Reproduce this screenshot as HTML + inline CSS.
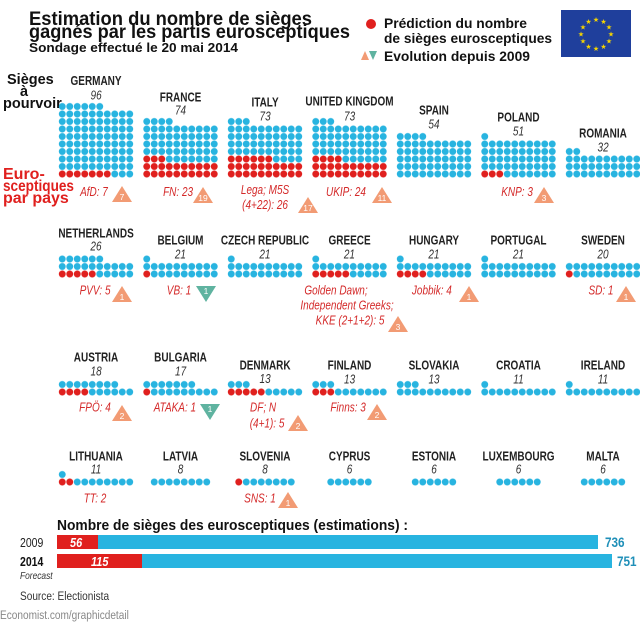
<!DOCTYPE html>
<html><head><meta charset="utf-8"><style>
html,body{margin:0;padding:0;background:#fff;}
svg{display:block;}
.h{font-family:"Liberation Sans",sans-serif;font-weight:bold;}
.c{font-family:"Liberation Sans",sans-serif;transform-box:fill-box;transform-origin:left center;transform:scaleX(0.84);}
.nm,.nb,.lb{transform-box:fill-box;transform-origin:center;transform:scaleX(0.8);font-family:"Liberation Sans",sans-serif;text-anchor:middle;}
.nm{font-weight:bold;font-size:12.5px;fill:#222;}
.nb{font-style:italic;font-size:12.5px;fill:#333;}
.lb{font-style:italic;font-size:12.5px;fill:#d42a2a;}
.tn{font-family:"Liberation Sans",sans-serif;font-size:8.5px;fill:#fff;text-anchor:middle;}
</style></head><body>
<svg width="640" height="623" viewBox="0 0 640 623" xmlns="http://www.w3.org/2000/svg">
<defs>
<pattern id="b" width="7.5" height="7.5" patternUnits="userSpaceOnUse"><circle cx="3.75" cy="3.75" r="3.45" fill="#28b4e0"/></pattern>
<pattern id="r" width="7.5" height="7.5" patternUnits="userSpaceOnUse"><rect width="7.5" height="7.5" fill="#fff"/><circle cx="3.75" cy="3.75" r="3.45" fill="#e0201e"/></pattern>
</defs>

<text class="h" x="29" y="25" font-size="19" textLength="283" lengthAdjust="spacingAndGlyphs" fill="#111">Estimation du nombre de sièges</text>
<text class="h" x="29" y="38" font-size="19" textLength="321" lengthAdjust="spacingAndGlyphs" fill="#111">gagnés par les partis eurosceptiques</text>
<text class="h" x="29" y="52" font-size="13" textLength="209" lengthAdjust="spacingAndGlyphs" fill="#111">Sondage effectué le 20 mai 2014</text>

<circle cx="371" cy="24" r="5" fill="#e0201e"/>
<text class="h" x="384" y="28" font-size="14" textLength="143" lengthAdjust="spacingAndGlyphs" fill="#111">Prédiction du nombre</text>
<text class="h" x="384" y="43" font-size="14" textLength="168" lengthAdjust="spacingAndGlyphs" fill="#111">de sièges eurosceptiques</text>
<polygon points="361,60 369,60 365,51" fill="#f29b74"/>
<polygon points="369,51 377,51 373,60" fill="#5fb3a0"/>
<text class="h" x="384" y="61" font-size="14" textLength="146" lengthAdjust="spacingAndGlyphs" fill="#111">Evolution depuis 2009</text>

<rect x="561" y="10" width="70" height="47" fill="#1f3f9c"/>
<g fill="#f5d400" font-size="7" text-anchor="middle" font-family="DejaVu Sans,sans-serif">
<text x="596" y="22">★</text><text x="603.5" y="24">★</text><text x="609" y="29.5">★</text><text x="611" y="36.5">★</text><text x="609" y="43.5">★</text><text x="603.5" y="49">★</text><text x="596" y="51">★</text><text x="588.5" y="49">★</text><text x="583" y="43.5">★</text><text x="581" y="36.5">★</text><text x="583" y="29.5">★</text><text x="588.5" y="24">★</text>
</g>

<text class="h" x="7" y="84" font-size="14.5" fill="#111">Sièges</text>
<text class="h" x="20" y="96" font-size="14.5" fill="#111">à</text>
<text class="h" x="3" y="108" font-size="14.5" fill="#111">pourvoir</text>
<text class="h" x="3" y="179" font-size="16" fill="#e0201e">Euro-</text>
<text class="h" x="3" y="191" font-size="16" textLength="71" lengthAdjust="spacingAndGlyphs" fill="#e0201e">sceptiques</text>
<text class="h" x="3" y="203" font-size="16" fill="#e0201e">par pays</text>

<!-- ROW 1 -->
<g transform="translate(58.5,170.25)"><rect x="0" y="-60" width="75" height="67.5" fill="url(#b)"/><rect x="0" y="-67.5" width="45" height="7.5" fill="url(#b)"/><rect x="0" y="0" width="52.5" height="7.5" fill="url(#r)"/></g>
<g transform="translate(143,170.25)"><rect x="0" y="-45" width="75" height="52.5" fill="url(#b)"/><rect x="0" y="-52.5" width="30" height="7.5" fill="url(#b)"/><rect x="0" y="-7.5" width="75" height="15" fill="url(#r)"/><rect x="0" y="-15" width="22.5" height="7.5" fill="url(#r)"/></g>
<g transform="translate(227.5,170.25)"><rect x="0" y="-45" width="75" height="52.5" fill="url(#b)"/><rect x="0" y="-52.5" width="22.5" height="7.5" fill="url(#b)"/><rect x="0" y="-7.5" width="75" height="15" fill="url(#r)"/><rect x="0" y="-15" width="45" height="7.5" fill="url(#r)"/></g>
<g transform="translate(312,170.25)"><rect x="0" y="-45" width="75" height="52.5" fill="url(#b)"/><rect x="0" y="-52.5" width="22.5" height="7.5" fill="url(#b)"/><rect x="0" y="-7.5" width="75" height="15" fill="url(#r)"/><rect x="0" y="-15" width="30" height="7.5" fill="url(#r)"/></g>
<g transform="translate(396.5,170.25)"><rect x="0" y="-30" width="75" height="37.5" fill="url(#b)"/><rect x="0" y="-37.5" width="30" height="7.5" fill="url(#b)"/></g>
<g transform="translate(481,170.25)"><rect x="0" y="-30" width="75" height="37.5" fill="url(#b)"/><rect x="0" y="-37.5" width="7.5" height="7.5" fill="url(#b)"/><rect x="0" y="0" width="22.5" height="7.5" fill="url(#r)"/></g>
<g transform="translate(565.5,170.25)"><rect x="0" y="-15" width="75" height="22.5" fill="url(#b)"/><rect x="0" y="-22.5" width="15" height="7.5" fill="url(#b)"/></g>

<text class="nm" x="96" y="85">GERMANY</text><text class="nb" x="96" y="99.5">96</text>
<text class="nm" x="180.5" y="101.5">FRANCE</text><text class="nb" x="180.5" y="114.5">74</text>
<text class="nm" x="265" y="106.5">ITALY</text><text class="nb" x="265" y="120.5">73</text>
<text class="nm" x="349.5" y="105.5">UNITED KINGDOM</text><text class="nb" x="349.5" y="120.5">73</text>
<text class="nm" x="434" y="114.5">SPAIN</text><text class="nb" x="434" y="128.5">54</text>
<text class="nm" x="518.5" y="121.5">POLAND</text><text class="nb" x="518.5" y="135.5">51</text>
<text class="nm" x="603" y="137.5">ROMANIA</text><text class="nb" x="603" y="151.5">32</text>

<text class="lb" x="94" y="196">AfD: 7</text>
<polygon points="112,202 132,202 122,186" fill="#f29b74"/><text class="tn" x="122" y="200">7</text>
<text class="lb" x="178" y="196">FN: 23</text>
<polygon points="193,203 213,203 203,187" fill="#f29b74"/><text class="tn" x="203" y="201">19</text>
<text class="lb" x="265" y="194">Lega; M5S</text>
<text class="lb" x="265" y="209">(4+22): 26</text>
<polygon points="298,213 318,213 308,197" fill="#f29b74"/><text class="tn" x="308" y="211">17</text>
<text class="lb" x="346" y="196">UKIP: 24</text>
<polygon points="372,203 392,203 382,187" fill="#f29b74"/><text class="tn" x="382" y="201">11</text>
<text class="lb" x="517" y="196">KNP: 3</text>
<polygon points="534,203 554,203 544,187" fill="#f29b74"/><text class="tn" x="544" y="201">3</text>

<!-- ROW 2 -->
<g transform="translate(58.5,270.25)"><rect x="0" y="-7.5" width="75" height="15" fill="url(#b)"/><rect x="0" y="-15" width="45" height="7.5" fill="url(#b)"/><rect x="0" y="0" width="37.5" height="7.5" fill="url(#r)"/></g>
<g transform="translate(143,270.25)"><rect x="0" y="-7.5" width="75" height="15" fill="url(#b)"/><rect x="0" y="-15" width="7.5" height="7.5" fill="url(#b)"/><rect x="0" y="0" width="7.5" height="7.5" fill="url(#r)"/></g>
<g transform="translate(227.5,270.25)"><rect x="0" y="-7.5" width="75" height="15" fill="url(#b)"/><rect x="0" y="-15" width="7.5" height="7.5" fill="url(#b)"/></g>
<g transform="translate(312,270.25)"><rect x="0" y="-7.5" width="75" height="15" fill="url(#b)"/><rect x="0" y="-15" width="7.5" height="7.5" fill="url(#b)"/><rect x="0" y="0" width="37.5" height="7.5" fill="url(#r)"/></g>
<g transform="translate(396.5,270.25)"><rect x="0" y="-7.5" width="75" height="15" fill="url(#b)"/><rect x="0" y="-15" width="7.5" height="7.5" fill="url(#b)"/><rect x="0" y="0" width="30" height="7.5" fill="url(#r)"/></g>
<g transform="translate(481,270.25)"><rect x="0" y="-7.5" width="75" height="15" fill="url(#b)"/><rect x="0" y="-15" width="7.5" height="7.5" fill="url(#b)"/></g>
<g transform="translate(565.5,270.25)"><rect x="0" y="-7.5" width="75" height="15" fill="url(#b)"/><rect x="0" y="0" width="7.5" height="7.5" fill="url(#r)"/></g>

<text class="nm" x="96" y="237.5">NETHERLANDS</text><text class="nb" x="96" y="250.5">26</text>
<text class="nm" x="180.5" y="244.5">BELGIUM</text><text class="nb" x="180.5" y="258.5">21</text>
<text class="nm" x="265" y="244.5">CZECH REPUBLIC</text><text class="nb" x="265" y="258.5">21</text>
<text class="nm" x="349.5" y="244.5">GREECE</text><text class="nb" x="349.5" y="258.5">21</text>
<text class="nm" x="434" y="244.5">HUNGARY</text><text class="nb" x="434" y="258.5">21</text>
<text class="nm" x="518.5" y="244.5">PORTUGAL</text><text class="nb" x="518.5" y="258.5">21</text>
<text class="nm" x="603" y="244.5">SWEDEN</text><text class="nb" x="603" y="258.5">20</text>

<text class="lb" x="95" y="294.5">PVV: 5</text>
<polygon points="112,302 132,302 122,286" fill="#f29b74"/><text class="tn" x="122" y="300">1</text>
<text class="lb" x="179" y="294.5">VB: 1</text>
<polygon points="196,286 216,286 206,302" fill="#5fb3a0"/><text class="tn" x="206" y="294">1</text>
<text class="lb" x="336" y="294.5">Golden Dawn;</text>
<text class="lb" x="347" y="309.5">Independent Greeks;</text>
<text class="lb" x="350" y="324.5">KKE (2+1+2): 5</text>
<polygon points="388,332 408,332 398,316" fill="#f29b74"/><text class="tn" x="398" y="330">3</text>
<text class="lb" x="432" y="294.5">Jobbik: 4</text>
<polygon points="459,302 479,302 469,286" fill="#f29b74"/><text class="tn" x="469" y="300">1</text>
<text class="lb" x="601" y="294.5">SD: 1</text>
<polygon points="616,302 636,302 626,286" fill="#f29b74"/><text class="tn" x="626" y="300">1</text>

<!-- ROW 3 -->
<g transform="translate(58.5,388.25)"><rect x="0" y="0" width="75" height="7.5" fill="url(#b)"/><rect x="0" y="-7.5" width="60" height="7.5" fill="url(#b)"/><rect x="0" y="0" width="30" height="7.5" fill="url(#r)"/></g>
<g transform="translate(143,388.25)"><rect x="0" y="0" width="75" height="7.5" fill="url(#b)"/><rect x="0" y="-7.5" width="52.5" height="7.5" fill="url(#b)"/><rect x="0" y="0" width="7.5" height="7.5" fill="url(#r)"/></g>
<g transform="translate(227.5,388.25)"><rect x="0" y="0" width="75" height="7.5" fill="url(#b)"/><rect x="0" y="-7.5" width="22.5" height="7.5" fill="url(#b)"/><rect x="0" y="0" width="37.5" height="7.5" fill="url(#r)"/></g>
<g transform="translate(312,388.25)"><rect x="0" y="0" width="75" height="7.5" fill="url(#b)"/><rect x="0" y="-7.5" width="22.5" height="7.5" fill="url(#b)"/><rect x="0" y="0" width="22.5" height="7.5" fill="url(#r)"/></g>
<g transform="translate(396.5,388.25)"><rect x="0" y="0" width="75" height="7.5" fill="url(#b)"/><rect x="0" y="-7.5" width="22.5" height="7.5" fill="url(#b)"/></g>
<g transform="translate(481,388.25)"><rect x="0" y="0" width="75" height="7.5" fill="url(#b)"/><rect x="0" y="-7.5" width="7.5" height="7.5" fill="url(#b)"/></g>
<g transform="translate(565.5,388.25)"><rect x="0" y="0" width="75" height="7.5" fill="url(#b)"/><rect x="0" y="-7.5" width="7.5" height="7.5" fill="url(#b)"/></g>

<text class="nm" x="96" y="361.5">AUSTRIA</text><text class="nb" x="96" y="375.5">18</text>
<text class="nm" x="180.5" y="361.5">BULGARIA</text><text class="nb" x="180.5" y="375.5">17</text>
<text class="nm" x="265" y="369.5">DENMARK</text><text class="nb" x="265" y="383">13</text>
<text class="nm" x="349.5" y="369.5">FINLAND</text><text class="nb" x="349.5" y="383.5">13</text>
<text class="nm" x="434" y="369.5">SLOVAKIA</text><text class="nb" x="434" y="383.5">13</text>
<text class="nm" x="518.5" y="369.5">CROATIA</text><text class="nb" x="518.5" y="383.5">11</text>
<text class="nm" x="603" y="369.5">IRELAND</text><text class="nb" x="603" y="383.5">11</text>

<text class="lb" x="95" y="411.5">FPÖ: 4</text>
<polygon points="112,421 132,421 122,405" fill="#f29b74"/><text class="tn" x="122" y="419">2</text>
<text class="lb" x="175" y="411.5">ATAKA: 1</text>
<polygon points="200,404 220,404 210,420" fill="#5fb3a0"/><text class="tn" x="210" y="412">1</text>
<text class="lb" x="263" y="411.5">DF; N</text>
<text class="lb" x="267" y="427.5">(4+1): 5</text>
<polygon points="288,431 308,431 298,415" fill="#f29b74"/><text class="tn" x="298" y="429">2</text>
<text class="lb" x="348" y="411.5">Finns: 3</text>
<polygon points="367,420 387,420 377,404" fill="#f29b74"/><text class="tn" x="377" y="418">2</text>

<!-- ROW 4 -->
<g transform="translate(58.5,478.25)"><rect x="0" y="0" width="75" height="7.5" fill="url(#b)"/><rect x="0" y="-7.5" width="7.5" height="7.5" fill="url(#b)"/><rect x="0" y="0" width="15" height="7.5" fill="url(#r)"/></g>
<g transform="translate(150.5,478.25)"><rect x="0" y="0" width="60" height="7.5" fill="url(#b)"/></g>
<g transform="translate(235,478.25)"><rect x="0" y="0" width="60" height="7.5" fill="url(#b)"/><rect x="0" y="0" width="7.5" height="7.5" fill="url(#r)"/></g>
<g transform="translate(327,478.25)"><rect x="0" y="0" width="45" height="7.5" fill="url(#b)"/></g>
<g transform="translate(411.5,478.25)"><rect x="0" y="0" width="45" height="7.5" fill="url(#b)"/></g>
<g transform="translate(496,478.25)"><rect x="0" y="0" width="45" height="7.5" fill="url(#b)"/></g>
<g transform="translate(580.5,478.25)"><rect x="0" y="0" width="45" height="7.5" fill="url(#b)"/></g>

<text class="nm" x="96" y="460.5">LITHUANIA</text><text class="nb" x="96" y="473.5">11</text>
<text class="nm" x="180.5" y="460.5">LATVIA</text><text class="nb" x="180.5" y="473.5">8</text>
<text class="nm" x="265" y="460.5">SLOVENIA</text><text class="nb" x="265" y="473.5">8</text>
<text class="nm" x="349.5" y="460.5">CYPRUS</text><text class="nb" x="349.5" y="473.5">6</text>
<text class="nm" x="434" y="460.5">ESTONIA</text><text class="nb" x="434" y="473.5">6</text>
<text class="nm" x="518.5" y="460.5">LUXEMBOURG</text><text class="nb" x="518.5" y="473.5">6</text>
<text class="nm" x="603" y="460.5">MALTA</text><text class="nb" x="603" y="473.5">6</text>

<text class="lb" x="95" y="502.5">TT: 2</text>
<text class="lb" x="260" y="502.5">SNS: 1</text>
<polygon points="278,508 298,508 288,492" fill="#f29b74"/><text class="tn" x="288" y="506">1</text>

<!-- Bottom bars -->
<text class="h" x="57" y="530" font-size="14.5" textLength="351" lengthAdjust="spacingAndGlyphs" fill="#111">Nombre de sièges des eurosceptiques (estimations) :</text>
<rect x="57" y="535" width="541" height="14" fill="#28b4e0"/>
<rect x="57" y="535" width="41" height="14" fill="#e0201e"/>
<text class="c" x="70" y="547" font-size="13" font-style="italic" font-weight="bold" fill="#fff">56</text>
<text class="c" x="605" y="547" font-size="14" font-weight="bold" fill="#1f8fb8">736</text>
<rect x="57" y="554" width="555" height="14" fill="#28b4e0"/>
<rect x="57" y="554" width="85" height="14" fill="#e0201e"/>
<text class="c" x="91" y="566" font-size="13" font-style="italic" font-weight="bold" fill="#fff">115</text>
<text class="c" x="617" y="566" font-size="14" font-weight="bold" fill="#1f8fb8">751</text>
<text class="c" x="20" y="547" font-size="12.5" fill="#222">2009</text>
<text class="c" x="20" y="566" font-size="12.5" font-weight="bold" fill="#111">2014</text>
<text class="c" x="20" y="579" font-size="10" font-style="italic" fill="#333">Forecast</text>
<text class="c" x="20" y="600" font-size="12" fill="#333">Source: Electionista</text>
<text class="c" x="0" y="619" font-size="12" fill="#888">Economist.com/graphicdetail</text>
</svg>
</body></html>
